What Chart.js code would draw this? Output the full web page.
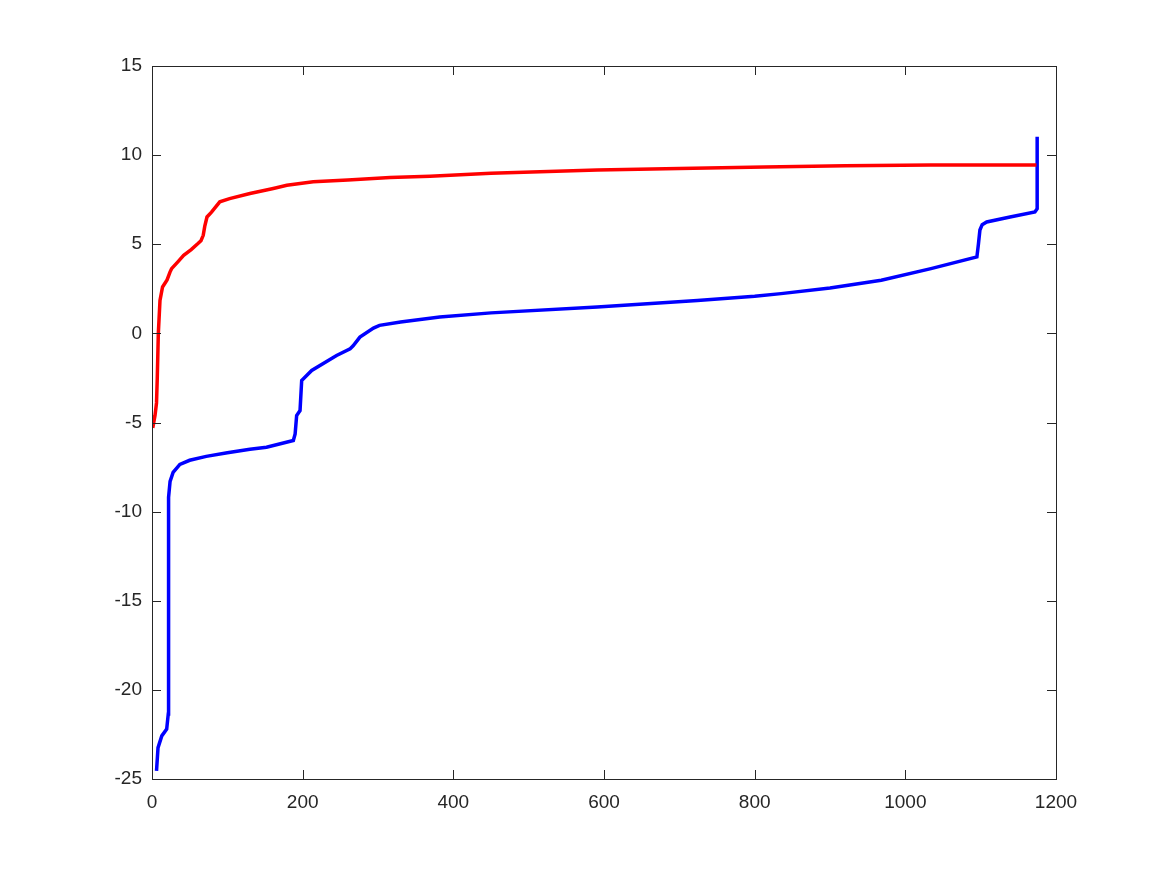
<!DOCTYPE html>
<html>
<head>
<meta charset="utf-8">
<script src="https://cdn.jsdelivr.net/npm/chart.js@4/dist/chart.umd.min.js"></script>
<style>
  html, body { margin:0; padding:0; background:#fff; }
  canvas { display:block; }
</style>
</head>
<body>
<canvas id="plot" width="1167" height="875"></canvas>
<script>
// Data
const redX = [1, 4, 6, 7, 8.4, 10.6, 14, 20, 24, 26, 34, 42, 52, 61, 65, 68, 70, 73, 79, 90, 103, 130, 161, 179, 214, 260, 316, 369, 450, 591, 700, 813, 920, 1034, 1174];
const redY = [-5.3, -4.6, -3.9, -2.5, 0, 1.85, 2.6, 3.0, 3.45, 3.63, 4.0, 4.38, 4.7, 5.04, 5.2, 5.5, 6.0, 6.53, 6.8, 7.38, 7.56, 7.85, 8.13, 8.31, 8.5, 8.6, 8.74, 8.82, 8.98, 9.16, 9.25, 9.34, 9.4, 9.44, 9.44];

const blueX = [6, 8, 13, 19.5, 21.6, 22, 24, 28, 37, 50, 72, 100, 130, 152, 187.6, 190, 192, 196.5, 198.7, 212, 245, 263, 267, 276, 294, 302, 330, 382, 450, 591, 724, 800, 835, 900, 968, 1034, 1095, 1097, 1099, 1102, 1108, 1139, 1172, 1175, 1175];
const blueY = [-24.55, -23.24, -22.58, -22.2, -21.35, -9.2, -8.3, -7.8, -7.35, -7.12, -6.9, -6.7, -6.5, -6.39, -6.01, -5.64, -4.61, -4.33, -2.64, -2.08, -1.24, -0.86, -0.7, -0.21, 0.3, 0.45, 0.64, 0.92, 1.15, 1.48, 1.85, 2.08, 2.23, 2.55, 2.98, 3.63, 4.29, 5.0, 5.8, 6.1, 6.25, 6.53, 6.81, 7.0, 11.03];

const xTicks = [0, 200, 400, 600, 800, 1000, 1200];
const yTicks = [-25, -20, -15, -10, -5, 0, 5, 10, 15];

const toPoints = (xs, ys) => xs.map((x, i) => ({x: x, y: ys[i]}));

const axisColor = '#262626';
const tickFont = { family: '"Liberation Sans", Helvetica, Arial, sans-serif', size: 19 };

// matlab style box with inward ticks
const boxPlugin = {
  id: 'boxPlugin',
  afterDraw(chart){
    const ctx = chart.ctx, a = chart.chartArea;
    const xs = chart.scales.x, ys = chart.scales.y;
    const len = 9;
    ctx.save();
    ctx.strokeStyle = axisColor;
    ctx.lineWidth = 1;
    ctx.strokeRect(a.left + 0.5, a.top + 0.5, a.right - a.left, a.bottom - a.top);
    ctx.beginPath();
    xTicks.forEach(v => {
      const px = Math.round(xs.getPixelForValue(v)) + 0.5;
      ctx.moveTo(px, a.bottom); ctx.lineTo(px, a.bottom - len);
      ctx.moveTo(px, a.top); ctx.lineTo(px, a.top + len);
    });
    yTicks.forEach(v => {
      const py = Math.round(ys.getPixelForValue(v)) + 0.5;
      ctx.moveTo(a.left, py); ctx.lineTo(a.left + len, py);
      ctx.moveTo(a.right, py); ctx.lineTo(a.right - len, py);
    });
    ctx.stroke();
    ctx.restore();
  }
};

new Chart(document.getElementById('plot').getContext('2d'), {
  type: 'line',
  data: {
    datasets: [
      { data: toPoints(redX, redY), borderColor: '#ff0000', borderWidth: 3.5, pointRadius: 0, tension: 0 },
      { data: toPoints(blueX, blueY), borderColor: '#0000ff', borderWidth: 3.5, pointRadius: 0, tension: 0 }
    ]
  },
  options: {
    responsive: false,
    animation: false,
    layout: { padding: { top: 66, right: 111, left: 0, bottom: 0 } },
    plugins: { legend: { display: false }, tooltip: { enabled: false } },
    scales: {
      x: {
        type: 'linear', min: 0, max: 1200,
        afterBuildTicks: s => { s.ticks = xTicks.map(v => ({value: v})); },
        afterFit: s => { s.height = 96; },
        grid: { display: false, drawTicks: false },
        border: { display: false },
        ticks: { color: axisColor, font: tickFont, padding: 12, maxRotation: 0, callback: v => String(v) }
      },
      y: {
        type: 'linear', min: -25, max: 15,
        afterBuildTicks: s => { s.ticks = yTicks.map(v => ({value: v})); },
        afterFit: s => { s.width = 152; },
        grid: { display: false, drawTicks: false },
        border: { display: false },
        ticks: { color: axisColor, font: tickFont, padding: 10, callback: v => String(v) }
      }
    }
  },
  plugins: [boxPlugin]
});
</script>
</body>
</html>
